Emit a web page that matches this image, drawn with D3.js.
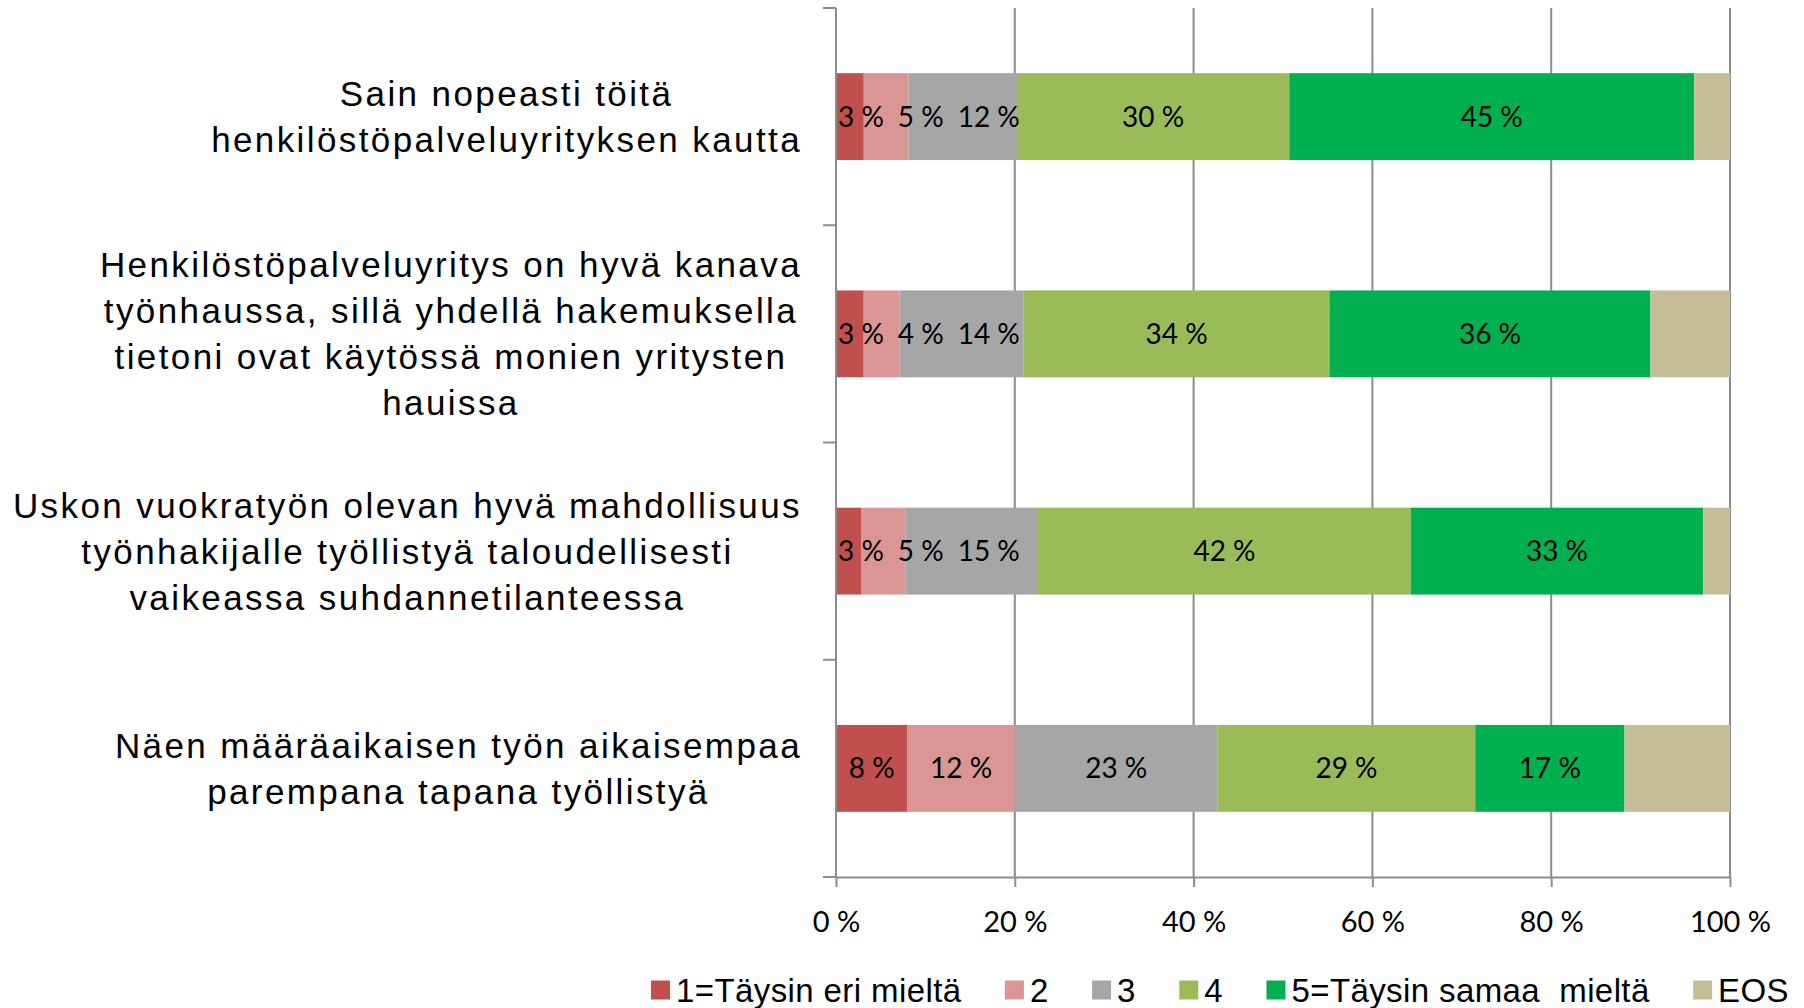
<!DOCTYPE html>
<html>
<head>
<meta charset="utf-8">
<script src="https://cdn.jsdelivr.net/npm/d3@7"></script>
<style>
  html, body { margin: 0; padding: 0; background: #fff; }
  svg { display: block; }
</style>
</head>
<body>
<svg id="chart" width="1804" height="1008"></svg>
<script>
// categories, top to bottom, split the way the labels wrap
const categories = [
  ["Sain nopeasti töitä", "henkilöstöpalveluyrityksen kautta"],
  ["Henkilöstöpalveluyritys on hyvä kanava", "työnhaussa, sillä yhdellä hakemuksella", "tietoni ovat käytössä monien yritysten", "hauissa"],
  ["Uskon vuokratyön olevan hyvä mahdollisuus", "työnhakijalle työllistyä taloudellisesti", "vaikeassa suhdannetilanteessa"],
  ["Näen määräaikaisen työn aikaisempaa", "parempana tapana työllistyä"]
];

const seriesNames = ["1=Täysin eri mieltä", "2", "3", "4", "5=Täysin samaa  mieltä", "EOS"];
const seriesColors = ["#C0504D", "#D99694", "#A6A6A6", "#9BBB59", "#00B050", "#C4BD97"];

// percentages per series, one value per category
const s1 = [3.1, 3.1, 2.8, 8.0];
const s2 = [5.0, 4.0, 5.0, 12.0];
const s3 = [12.1, 13.9, 14.8, 22.7];
const s4 = [30.4, 34.2, 41.7, 28.8];
const s5 = [45.2, 35.9, 32.7, 16.7];
const eos = [4.0, 8.9, 3.0, 11.8];

const xTicks = [0, 20, 40, 60, 80, 100];
const labelledSeries = [0, 1, 2, 3, 4]; // EOS has no data labels

const series = [s1, s2, s3, s4, s5, eos];
const rows = categories.map((c, i) => {
  const r = { idx: i };
  series.forEach((s, k) => (r["k" + k] = s[i]));
  return r;
});
const keys = series.map((s, k) => "k" + k);

const width = 1804;
const height = 1008;
const margin = { top: 8, right: 74, bottom: 131, left: 836 };

const svg = d3.select("#chart");

const x = d3
  .scaleLinear()
  .domain([0, 1])
  .range([margin.left, width - margin.right]);

const y = d3
  .scaleBand()
  .domain(categories.map((c, i) => i))
  .range([margin.top, height - margin.bottom])
  .paddingInner(0.6)
  .paddingOuter(0.3);

const stacked = d3.stack().keys(keys).offset(d3.stackOffsetExpand)(rows);

const gridColor = "#8C8C8C";

// vertical gridlines
svg
  .append("g")
  .selectAll("line")
  .data(xTicks.slice(1))
  .join("line")
  .attr("x1", (d) => x(d / 100))
  .attr("x2", (d) => x(d / 100))
  .attr("y1", margin.top)
  .attr("y2", height - margin.bottom)
  .attr("stroke", gridColor)
  .attr("stroke-width", 2);

// bars
svg
  .append("g")
  .selectAll("g")
  .data(stacked)
  .join("g")
  .attr("fill", (d, k) => seriesColors[k])
  .selectAll("rect")
  .data((d) => d)
  .join("rect")
  .attr("x", (d) => x(d[0]))
  .attr("width", (d) => x(d[1]) - x(d[0]))
  .attr("y", (d) => y(d.data.idx))
  .attr("height", y.bandwidth());

// data labels, centred on their segment but pushed right so small ones don't collide
const labelG = svg.append("g");
const labelGap = 14;
categories.forEach((c, i) => {
  let prevRight = margin.left + 2;
  labelledSeries.forEach((k) => {
    const d = stacked[k][i];
    const t = labelG
      .append("text")
      .attr("y", y(i) + y.bandwidth() / 2)
      .attr("dy", "0.36em")
      .attr("text-anchor", "middle")
      .attr("font-family", "Lato, 'Open Sans', sans-serif")
      .attr("font-size", 28)
      .attr("fill", "#000")
      .text(Math.round(series[k][i]) + " %");
    const w = t.node().getComputedTextLength();
    let cx = (x(d[0]) + x(d[1])) / 2;
    if (cx - w / 2 < prevRight) cx = prevRight + w / 2;
    t.attr("x", cx);
    prevRight = cx + w / 2 + labelGap;
  });
});

// left axis line + category boundary ticks
const axisG = svg.append("g");
axisG
  .append("line")
  .attr("x1", margin.left)
  .attr("x2", margin.left)
  .attr("y1", margin.top)
  .attr("y2", height - margin.bottom)
  .attr("stroke", gridColor)
  .attr("stroke-width", 2);

axisG
  .selectAll(".ctick")
  .data(d3.range(categories.length + 1))
  .join("line")
  .attr("class", "ctick")
  .attr("x1", margin.left - 13)
  .attr("x2", margin.left)
  .attr("y1", (i) => margin.top + i * y.step())
  .attr("y2", (i) => margin.top + i * y.step())
  .attr("stroke", gridColor)
  .attr("stroke-width", 2);

// bottom axis
svg
  .append("g")
  .attr("transform", `translate(0,${height - margin.bottom})`)
  .call(
    d3
      .axisBottom(x)
      .tickValues(xTicks.map((d) => d / 100))
      .tickSize(10)
      .tickSizeOuter(0)
      .tickPadding(24)
      .tickFormat((d) => Math.round(d * 100) + " %")
  )
  .call((g) => g.select(".domain").attr("stroke", gridColor).attr("stroke-width", 2))
  .call((g) => g.selectAll("line").attr("stroke", gridColor).attr("stroke-width", 2))
  .call((g) =>
    g
      .selectAll("text")
      .attr("fill", "#000")
      .attr("font-family", "Lato, 'Open Sans', sans-serif")
      .style("font-size", "29px")
  );

// category labels: each block centred, widest line ending at labelRight
const labelRight = 802;
const lineH = 46;
const catG = svg.append("g");
categories.forEach((lines, i) => {
  const cy = y(i) + y.bandwidth() / 2;
  const block = catG.append("g");
  const texts = lines.map((ln, j) =>
    block
      .append("text")
      .attr("y", cy + (j - (lines.length - 1) / 2) * lineH)
      .attr("dy", "0.36em")
      .attr("text-anchor", "middle")
      .attr("font-family", "'Liberation Sans', Arial, sans-serif")
      .attr("font-size", 35)
      .attr("letter-spacing", "2.4px")
      .attr("fill", "#000")
      .text(ln)
  );
  const maxW = d3.max(texts, (t) => t.node().getComputedTextLength());
  const cx = labelRight - maxW / 2;
  texts.forEach((t) => t.attr("x", cx));
});

// legend
const legendLeft = 651;
const legendRight = 1789;
const legendY = 990;
const sq = 19;
const legendG = svg.append("g");
const items = seriesNames.map((name, k) => {
  const g = legendG.append("g");
  g.append("rect").attr("width", sq).attr("height", sq).attr("y", -sq / 2).attr("fill", seriesColors[k]);
  const t = g
    .append("text")
    .attr("x", sq + 6)
    .attr("dy", "0.36em")
    .attr("font-family", "'Liberation Sans', Arial, sans-serif")
    .attr("font-size", 33)
    .attr("letter-spacing", "0.4px")
    .style("white-space", "pre")
    .attr("fill", "#000")
    .text(name);
  return { g, w: sq + 6 + t.node().getComputedTextLength() };
});
const used = d3.sum(items, (d) => d.w);
const gap = (legendRight - legendLeft - used) / (items.length - 1);
let lx = legendLeft;
items.forEach((it) => {
  it.g.attr("transform", `translate(${lx},${legendY})`);
  lx += it.w + gap;
});
</script>
</body>
</html>
